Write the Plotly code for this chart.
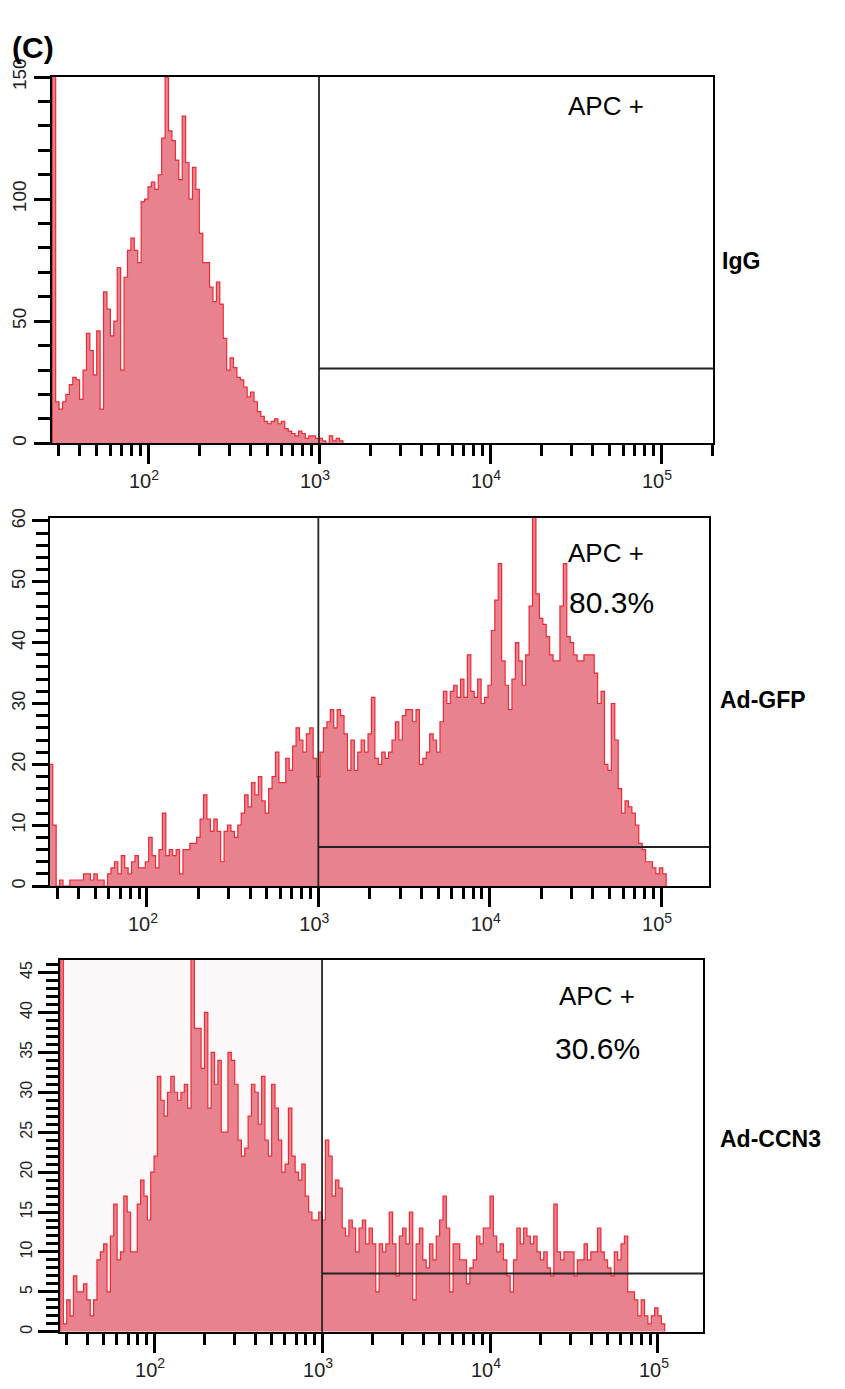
import plotly.graph_objects as go

# ---------------- data (counts per channel, channel width in decades) ----------------
BIN_WIDTH = 0.02

igg_start = 1.44
igg_counts = [160, 17, 14, 17, 20, 24, 27, 26, 18, 30, 45, 38, 28, 46, 14, 62, 55, 44, 50, 72,
              30, 68, 79, 84, 79, 74, 99, 100, 105, 107, 104, 110, 125, 150, 128, 124, 116, 108,
              134, 115, 100, 113, 104, 86, 74, 74, 64, 58, 66, 57, 43, 30, 35, 31, 27, 26, 23,
              19, 21, 17, 13, 11, 9, 8, 9, 10, 8, 9, 6, 5, 4, 3, 5, 4, 2, 3, 3, 2, 2, 1, 0, 3,
              1, 2, 1]

gfp_start = 1.43
gfp_counts = [20, 10, 0, 1, 0, 0, 1, 1, 1, 1, 2, 2, 1, 2, 1, 1, 0, 2, 3, 4,
              2, 5, 3, 2, 4, 5, 3, 3, 4, 8, 5, 3, 6, 12, 5, 6, 5, 6, 2, 6,
              6, 7, 7, 8, 11, 15, 11, 9, 11, 9, 4, 9, 10, 9, 8, 10, 12, 15, 13, 17,
              15, 18, 14, 12, 16, 18, 22, 17, 17, 21, 19, 23, 26, 24, 22, 25, 26, 21, 18, 22,
              26, 27, 29, 26, 29, 28, 25, 19, 24, 19, 22, 24, 22, 25, 31, 21, 20, 22, 21, 22,
              24, 27, 24, 28, 29, 29, 27, 29, 20, 21, 22, 25, 24, 22, 27, 32, 30, 32, 33, 31,
              34, 31, 38, 32, 31, 34, 30, 31, 33, 42, 47, 53, 37, 33, 29, 34, 40, 37, 33, 38,
              46, 61, 48, 44, 43, 41, 38, 37, 37, 46, 53, 41, 40, 38, 37, 37, 38, 38, 38, 35,
              30, 32, 20, 19, 30, 24, 16, 12, 14, 13, 12, 10, 7, 6, 4, 4, 3, 2, 3, 2]

ccn3_start = 1.44
ccn3_counts = [60, 1, 4, 2, 7, 5, 5, 6, 4, 2, 4, 9, 10, 11, 5, 12, 16, 9, 10, 17,
               15, 10, 10, 16, 19, 17, 14, 20, 22, 32, 29, 27, 30, 32, 30, 29, 30, 31, 28, 50,
               38, 38, 33, 40, 28, 35, 31, 34, 25, 25, 35, 34, 31, 24, 22, 23, 27, 31, 30, 26,
               32, 24, 22, 31, 28, 24, 20, 21, 28, 22, 20, 19, 21, 17, 15, 14, 14, 15, 14, 24,
               22, 17, 19, 18, 13, 12, 14, 13, 10, 13, 14, 11, 13, 11, 5, 11, 10, 11, 15, 11,
               7, 12, 13, 11, 15, 4, 11, 13, 9, 8, 11, 9, 12, 14, 17, 13, 5, 11, 11, 9,
               9, 6, 8, 9, 12, 11, 13, 13, 17, 12, 10, 11, 9, 7, 5, 9, 13, 11, 13, 12,
               11, 12, 10, 9, 10, 8, 7, 16, 10, 9, 10, 10, 10, 7, 9, 9, 11, 9, 10, 10,
               13, 10, 9, 8, 7, 10, 9, 11, 12, 5, 5, 4, 2, 4, 2, 1, 2, 3, 2, 1]

panel_names = ["IgG", "Ad-GFP", "Ad-CCN3"]
gate_labels = ["APC +", "APC +", "APC +"]
gate_percent = ["", "80.3%", "30.6%"]
gate_x = [1000, 1000, 1000]
gate_y = [30.6, 6.4, 7.3]

x_major_vals = [100, 1000, 10000, 100000]
x_major_text = ["10<sup>2</sup>", "10<sup>3</sup>", "10<sup>4</sup>", "10<sup>5</sup>"]

y_major = [[0, 50, 100, 150], [0, 10, 20, 30, 40, 50, 60], [0, 5, 10, 15, 20, 25, 30, 35, 40, 45]]
y_minor_step = [10, 2, 1]
y_max = [150, 60.5, 46.6]

# ---------------- layout geometry (page pixels) ----------------
PAGE_W, PAGE_H = 845, 1389
BODY = 8                      # default page margin around the plot div
W, H = PAGE_W - 2 * BODY, PAGE_H - 2 * BODY
panels = [
    dict(x0=52, x1=713, y0=59, y1=432, xr=(1.4386, 5.304), font=19, mj=16, mn=12),
    dict(x0=50, x1=709, y0=508, y1=883, xr=(1.434, 5.28), font=18, mj=16, mn=12),
    dict(x0=60, x1=703, y0=958, y1=1337, xr=(1.44, 5.268), font=16, mj=20, mn=12),
]
starts = [igg_start, gfp_start, ccn3_start]
counts = [igg_counts, gfp_counts, ccn3_counts]

FILL = "#E8828F"
EDGE = "#EE2A35"
FONT = "Liberation Sans, Arial, sans-serif"


def fx(p):
    return (p - BODY) / W


def fy(p):
    return 1 - (p - BODY) / H


x_minor_vals = [m * 10 ** d for d in range(1, 6) for m in range(2, 10)]

fig = go.Figure()
shapes = []
annotations = []

for k, (pan, st, cnt) in enumerate(zip(panels, starts, counts)):
    n = len(cnt)
    edges = [10 ** (st + BIN_WIDTH * i) for i in range(n + 1)]
    xs = [edges[0]] + edges
    ys = [0] + list(cnt) + [0]
    sfx = "" if k == 0 else str(k + 1)
    fig.add_trace(go.Scatter(
        x=xs, y=ys, mode="lines",
        line=dict(shape="hv", color=EDGE, width=1.2),
        fill="tozeroy", fillcolor=FILL,
        xaxis="x" + sfx, yaxis="y" + sfx, showlegend=False, hoverinfo="skip"))

    fig.layout["xaxis" + sfx] = dict(
        type="log", range=list(pan["xr"]),
        domain=[fx(pan["x0"]), fx(pan["x1"])],
        anchor="y" + sfx,
        showline=True, linecolor="black", linewidth=2, mirror=True,
        showgrid=False, zeroline=False,
        tickmode="array", tickvals=x_major_vals, ticktext=x_major_text,
        ticks="outside", ticklen=19, tickwidth=2.5, tickcolor="black",
        ticklabelshift=-4,
        tickfont=dict(family=FONT, size=20, color="#222"),
        minor=dict(tickmode="array", tickvals=x_minor_vals, ticks="outside",
                   ticklen=11, tickwidth=2.5, tickcolor="black", showgrid=False),
    )
    fig.layout["yaxis" + sfx] = dict(
        range=[0, y_max[k]],
        domain=[fy(pan["y1"]), fy(pan["y0"])],
        anchor="x" + sfx,
        showline=True, linecolor="black", linewidth=2, mirror=True,
        showgrid=False, zeroline=False,
        tickmode="array", tickvals=y_major[k], ticktext=[str(v) for v in y_major[k]],
        ticks="outside", ticklen=pan["mj"], tickwidth=2.5, tickcolor="black",
        tickangle=-90,
        tickfont=dict(family=FONT, size=pan["font"], color="#222"),
        minor=dict(dtick=y_minor_step[k], tick0=0, ticks="outside", ticklen=pan["mn"],
                   tickwidth=2.5, tickcolor="black", showgrid=False),
    )

    xref = "x" + sfx
    yref = "y" + sfx
    if k == 2:
        shapes.append(dict(type="rect", xref=xref, yref=yref + " domain",
                           x0=10 ** pan["xr"][0], x1=gate_x[k], y0=0, y1=1,
                           fillcolor="#FAF8F8", line=dict(width=0), layer="below"))
    shapes.append(dict(type="line", xref=xref, yref=yref + " domain",
                       x0=gate_x[k], x1=gate_x[k], y0=0, y1=1,
                       line=dict(color="#2a2420", width=1.8)))
    shapes.append(dict(type="line", xref=xref, yref=yref,
                       x0=gate_x[k], x1=10 ** pan["xr"][1], y0=gate_y[k], y1=gate_y[k],
                       line=dict(color="#222", width=2)))

# text annotations (page pixel positions)
apc_pos = [(606, 88), (606, 544), (597, 995)]
pct_pos = [None, (611, 594), (597, 1048)]
name_pos = [(720, 246), (718, 693), (718, 1141)]
for k in range(3):
    annotations.append(dict(text=gate_labels[k], x=fx(apc_pos[k][0]), y=fy(apc_pos[k][1]),
                            xref="paper", yref="paper", showarrow=False,
                            xanchor="center", yanchor="middle",
                            font=dict(family=FONT, size=26, color="black")))
    if gate_percent[k]:
        annotations.append(dict(text=gate_percent[k], x=fx(pct_pos[k][0]), y=fy(pct_pos[k][1]),
                                xref="paper", yref="paper", showarrow=False,
                                xanchor="center", yanchor="middle",
                                font=dict(family=FONT, size=30, color="black")))
    annotations.append(dict(text="<b>" + panel_names[k] + "</b>", x=fx(name_pos[k][0]),
                            y=fy(name_pos[k][1]), xref="paper", yref="paper",
                            showarrow=False, xanchor="left", yanchor="middle",
                            font=dict(family=FONT, size=23, color="black")))

annotations.append(dict(text="<b>(C)</b>", x=fx(10), y=fy(29), xref="paper", yref="paper",
                        showarrow=False, xanchor="left", yanchor="middle",
                        font=dict(family=FONT, size=30, color="black")))

fig.update_layout(
    width=W, height=H,
    margin=dict(l=0, r=0, t=0, b=0),
    paper_bgcolor="white", plot_bgcolor="white",
    shapes=shapes, annotations=annotations,
    showlegend=False,
)

fig.write_html("out.html")
